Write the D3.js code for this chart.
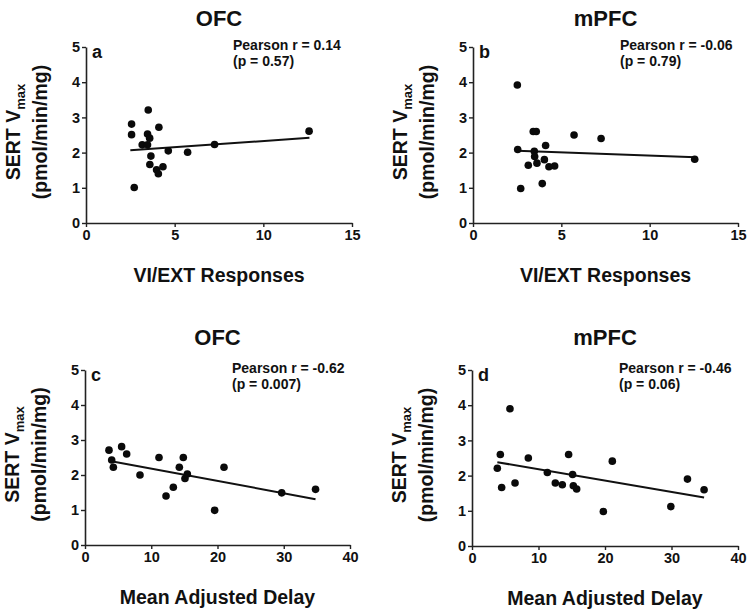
<!DOCTYPE html>
<html>
<head>
<meta charset="utf-8">
<script src="https://cdn.jsdelivr.net/npm/d3@7"></script>
<style>
  html, body { margin: 0; padding: 0; background: #fff; }
  text { font-family: "Liberation Sans", Arial, sans-serif; font-weight: bold; fill: #111; }
</style>
</head>
<body>
<script>
// ---------- DATA ----------
const yTicks = [0, 1, 2, 3, 4, 5];
const viTicks = [0, 5, 10, 15];
const delayTicks = [0, 10, 20, 30, 40];

// Panel a: OFC vs VI/EXT responses
const ofcViX = [2.57, 2.57, 2.72, 3.17, 3.47, 3.51, 3.47, 3.59, 3.66, 3.60, 4.11, 3.98, 4.08, 4.34, 4.64, 5.73, 7.25, 12.58];
const ofcViY = [2.81, 2.51, 1.01, 2.22, 2.22, 3.21, 2.53, 2.41, 1.90, 1.66, 2.72, 1.51, 1.40, 1.60, 2.05, 2.01, 2.23, 2.61];
const ofcViFit = [[2.5, 2.07], [12.6, 2.42]];

// Panel b: mPFC vs VI/EXT responses
const mpfcViX = [2.51, 2.53, 2.70, 3.13, 3.41, 3.58, 3.47, 3.49, 3.62, 4.11, 4.04, 3.92, 4.30, 4.62, 5.72, 7.25, 12.55];
const mpfcViY = [3.92, 2.09, 0.98, 1.64, 2.60, 2.60, 2.04, 1.89, 1.70, 2.20, 1.80, 1.12, 1.60, 1.62, 2.50, 2.40, 1.81];
const mpfcViFit = [[2.5, 2.05], [12.6, 1.87]];

// Panel c: OFC vs mean adjusted delay
const ofcDelX = [3.62, 4.03, 4.28, 5.53, 6.29, 8.30, 11.17, 12.23, 13.33, 14.24, 14.84, 15.09, 15.45, 19.57, 20.98, 29.69, 34.80];
const ofcDelY = [2.71, 2.43, 2.22, 2.81, 2.60, 2.00, 2.50, 1.40, 1.65, 2.22, 2.50, 1.90, 2.03, 0.99, 2.22, 1.49, 1.59];
const ofcDelFit = [[3.77, 2.40], [34.8, 1.31]];

// Panel d: mPFC vs mean adjusted delay
const mpfcDelX = [3.81, 4.26, 4.46, 5.71, 6.47, 8.47, 11.33, 12.53, 13.58, 14.53, 15.13, 15.24, 15.74, 19.75, 21.10, 29.90, 32.40, 34.90];
const mpfcDelY = [2.21, 2.60, 1.66, 3.90, 1.79, 2.50, 2.09, 1.79, 1.74, 2.60, 2.03, 1.71, 1.62, 0.98, 2.41, 1.12, 1.90, 1.60];
const mpfcDelFit = [[3.81, 2.38], [34.9, 1.38]];

const regionTitles = ["OFC", "mPFC", "OFC", "mPFC"];
const panelLetters = ["a", "b", "c", "d"];
const pearsonR = ["Pearson r = 0.14", "Pearson r = -0.06", "Pearson r = -0.62", "Pearson r = -0.46"];
const pearsonP = ["(p = 0.57)", "(p = 0.79)", "(p = 0.007)", "(p = 0.06)"];
const xLabels = ["VI/EXT Responses", "VI/EXT Responses", "Mean Adjusted Delay", "Mean Adjusted Delay"];

// ---------- LAYOUT ----------
const panels = [
  { xs: ofcViX,  ys: ofcViY,  fit: ofcViFit,  xmax: 15, ticks: viTicks,    left: 86,  right: 352, top: 47,  bottom: 223, titleY: 26 },
  { xs: mpfcViX, ys: mpfcViY, fit: mpfcViFit, xmax: 15, ticks: viTicks,    left: 473, right: 738, top: 47,  bottom: 223, titleY: 26 },
  { xs: ofcDelX, ys: ofcDelY, fit: ofcDelFit, xmax: 40, ticks: delayTicks, left: 85,  right: 350, top: 370, bottom: 545, titleY: 345 },
  { xs: mpfcDelX,ys: mpfcDelY,fit: mpfcDelFit,xmax: 40, ticks: delayTicks, left: 472, right: 738, top: 370, bottom: 546, titleY: 345 }
];

const svg = d3.select("body").append("svg").attr("width", 750).attr("height", 612);

panels.forEach((p, i) => {
  const x = d3.scaleLinear().domain([0, p.xmax]).range([p.left, p.right]);
  const y = d3.scaleLinear().domain([0, 5]).range([p.bottom, p.top]);
  const cx = (p.left + p.right) / 2;

  // Axes
  const gx = svg.append("g").attr("transform", `translate(0,${p.bottom})`)
    .call(d3.axisBottom(x).tickValues(p.ticks).tickFormat(d3.format("d"))
      .tickSize(4).tickSizeOuter(0).tickPadding(3));
  const gy = svg.append("g").attr("transform", `translate(${p.left},0)`)
    .call(d3.axisLeft(y).tickValues(yTicks).tickFormat(d3.format("d"))
      .tickSize(4).tickSizeOuter(0).tickPadding(2));
  [gx, gy].forEach(g => {
    g.attr("font-family", null).attr("font-size", null);
    g.selectAll("path.domain").attr("stroke", "#222").attr("stroke-width", 1.6);
    g.selectAll(".tick line").attr("stroke", "#222").attr("stroke-width", 1.4);
    g.selectAll(".tick text").style("font-size", "14.5px").attr("fill", "#111");
  });

  // Regression line
  svg.append("line")
    .attr("x1", x(p.fit[0][0])).attr("y1", y(p.fit[0][1]))
    .attr("x2", x(p.fit[1][0])).attr("y2", y(p.fit[1][1]))
    .attr("stroke", "#111").attr("stroke-width", 2);

  // Points
  svg.append("g").selectAll("circle")
    .data(p.xs.map((v, k) => [v, p.ys[k]]))
    .join("circle")
    .attr("cx", d => x(d[0])).attr("cy", d => y(d[1]))
    .attr("r", 3.8).attr("fill", "#0a0a0a");

  // Title
  svg.append("text").attr("x", cx).attr("y", p.titleY)
    .attr("text-anchor", "middle").style("font-size", "22px").text(regionTitles[i]);

  // Panel letter
  svg.append("text").attr("x", p.left + 6).attr("y", p.top + 11)
    .style("font-size", "18px").text(panelLetters[i]);

  // Pearson stats
  const sx = p.left + 147;
  svg.append("text").attr("x", sx).attr("y", p.top + 3)
    .style("font-size", "14px").text(pearsonR[i]);
  svg.append("text").attr("x", sx).attr("y", p.top + 19)
    .style("font-size", "14px").text(pearsonP[i]);

  // X label
  svg.append("text").attr("x", cx).attr("y", p.bottom + 59)
    .attr("text-anchor", "middle").style("font-size", "19.5px").text(xLabels[i]);

  // Y label (two lines, rotated)
  const ymid = (p.top + p.bottom) / 2 - 3;
  const yl = svg.append("text")
    .attr("transform", `translate(${p.left - 66},${ymid}) rotate(-90)`)
    .attr("text-anchor", "middle").style("font-size", "19.5px");
  yl.append("tspan").text("SERT V");
  yl.append("tspan").attr("dy", 5).style("font-size", "13px").text("max");
  svg.append("text")
    .attr("transform", `translate(${p.left - 39},${ymid}) rotate(-90)`)
    .attr("text-anchor", "middle").style("font-size", "19.5px")
    .text("(pmol/min/mg)");
});
</script>
</body>
</html>
